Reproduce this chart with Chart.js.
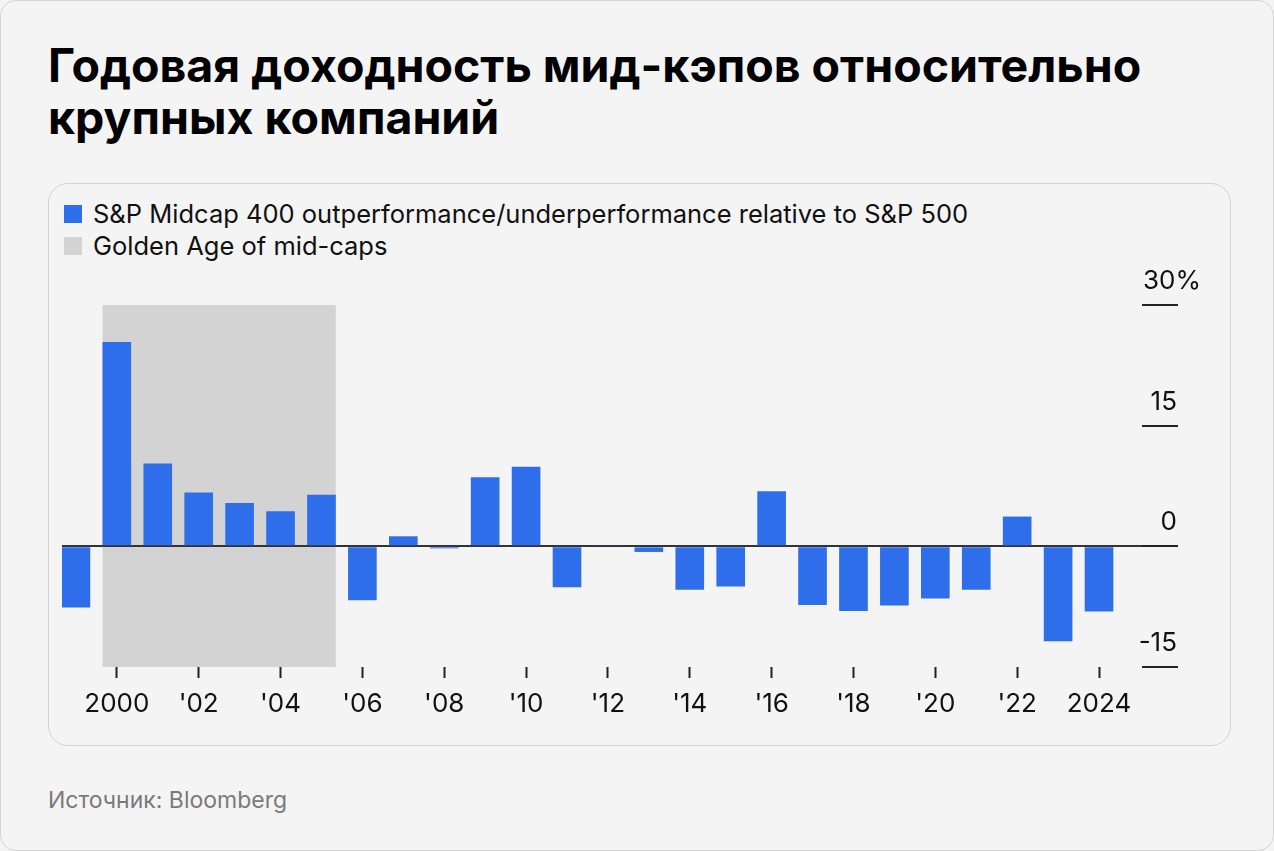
<!DOCTYPE html>
<html lang="ru">
<head>
<meta charset="utf-8">
<title>Годовая доходность мид-кэпов</title>
<script src="https://cdn.jsdelivr.net/npm/chart.js"></script>
<style>
  html, body { margin: 0; padding: 0; background: #f4f4f4; }
  body { width: 1274px; height: 851px; position: relative; font-family: Inter, "Noto Sans", sans-serif; overflow: hidden; }
  .frame { position: absolute; left: 0; top: 0; width: 1272px; height: 849px; border: 1px solid #d4d4d4; border-radius: 16px; }
  h1 { position: absolute; left: 48px; top: 39px; margin: 0; font-size: 46.5px; line-height: 52px; font-weight: 700; color: #000; white-space: nowrap; }
  .card { position: absolute; left: 48px; top: 183px; width: 1181px; height: 561px; border: 1px solid #d2d2d2; border-radius: 20px; }
  .legend { position: absolute; left: 64px; top: 198px; font-size: 25.5px; color: #111; }
  .legend div { height: 32px; line-height: 32px; display: flex; align-items: center; white-space: nowrap; }
  .legend span.sw { width: 18px; height: 18px; margin-right: 11px; display: inline-block; }
  .chartbox { position: absolute; left: 48px; top: 260px; width: 1183px; height: 480px; }
  .source { position: absolute; left: 48px; top: 786px; font-size: 23px; color: #7a7a7a; }
</style>
</head>
<body>
<div class="frame"></div>
<h1>Годовая доходность мид-кэпов относительно<br>крупных компаний</h1>
<div class="card"></div>
<div class="legend">
  <div><span class="sw" style="background:#2f6eea"></span>S&amp;P Midcap 400 outperformance/underperformance relative to S&amp;P 500</div>
  <div><span class="sw" style="background:#d3d3d3"></span>Golden Age of mid-caps</div>
</div>
<div class="chartbox"><canvas id="chart" width="1183" height="480"></canvas></div>
<div class="source">Источник: Bloomberg</div>
<script>
const years = [1999, 2000, 2001, 2002, 2003, 2004, 2005, 2006, 2007, 2008, 2009, 2010, 2011, 2012,
               2013, 2014, 2015, 2016, 2017, 2018, 2019, 2020, 2021, 2022, 2023, 2024];
const relReturn = [-7.6, 25.4, 10.3, 6.7, 5.4, 4.35, 6.4, -6.7, 1.25, -0.25, 8.6, 9.9, -5.1, 0.15,
                   -0.7, -5.4, -5.0, 6.85, -7.3, -8.05, -7.35, -6.5, -5.4, 3.7, -11.8, -8.1];
const tickYears = [2000, 2002, 2004, 2006, 2008, 2010, 2012, 2014, 2016, 2018, 2020, 2022, 2024];
const yTicks = [-15, 0, 15, 30];
const goldenAge = [2000, 2005];

const BLUE = '#2f6eea';
const GREY = '#d3d3d3';

// shaded "golden age" box, drawn under grid and bars
const goldenBox = {
  id: 'goldenBox',
  beforeDraw(chart) {
    const meta = chart.getDatasetMeta(0);
    const first = meta.data[years.indexOf(goldenAge[0])];
    const last = meta.data[years.indexOf(goldenAge[1])];
    const area = chart.chartArea;
    const ctx = chart.ctx;
    const x0 = first.x - first.width / 2;
    const x1 = last.x + last.width / 2;
    ctx.save();
    ctx.fillStyle = GREY;
    ctx.fillRect(x0, area.top, x1 - x0, area.bottom - area.top);
    ctx.restore();
  }
};

// right-side value labels sitting on short lines
const yLabels = {
  id: 'yLabels',
  afterDraw(chart) {
    const y = chart.scales.y;
    const right = chart.chartArea.right;
    const ctx = chart.ctx;
    ctx.save();
    ctx.strokeStyle = '#222';
    ctx.lineWidth = 2;
    ctx.fillStyle = '#111';
    ctx.font = '26px Inter';
    ctx.textBaseline = 'alphabetic';
    y.ticks.forEach(t => {
      const py = Math.round(y.getPixelForValue(t.value));
      ctx.beginPath();
      ctx.moveTo(right - 36, py);
      ctx.lineTo(right, py);
      ctx.stroke();
      if (t.value === 30) {
        ctx.textAlign = 'left';
        ctx.fillText(t.value + '%', right - 35, py - 16);
      } else {
        ctx.textAlign = 'right';
        ctx.fillText(String(t.value), right - 1, py - 16);
      }
    });
    ctx.restore();
  }
};

new Chart(document.getElementById('chart'), {
  type: 'bar',
  data: {
    datasets: [{
      label: 'S&P Midcap 400 outperformance/underperformance relative to S&P 500',
      data: years.map((yr, i) => ({ x: yr, y: relReturn[i] })),
      backgroundColor: BLUE,
      borderWidth: 0,
      barPercentage: 0.875,
      categoryPercentage: 0.8
    }]
  },
  options: {
    responsive: false,
    animation: false,
    layout: { padding: { left: 14, top: 45, right: 53, bottom: 0 } },
    plugins: { legend: { display: false }, tooltip: { enabled: false } },
    scales: {
      x: {
        type: 'linear',
        min: 1998.66,
        max: 2025.93,
        offset: false,
        afterBuildTicks: s => { s.ticks = tickYears.map(v => ({ value: v })); },
        afterFit: s => { s.height = 73; },
        grid: { offset: false, drawOnChartArea: false, drawTicks: true, tickLength: 11, tickColor: '#222', tickWidth: 2, color: '#222' },
        border: { display: false },
        ticks: {
          padding: 11,
          color: '#111',
          font: { family: 'Inter', size: 26 },
          maxRotation: 0,
          autoSkip: false,
          callback: v => (v === 2000 || v === 2024) ? String(v) : "'" + String(v).slice(2)
        }
      },
      y: {
        position: 'right',
        min: -15,
        max: 30,
        afterBuildTicks: s => { s.ticks = yTicks.map(v => ({ value: v })); },
        afterFit: s => { s.width = 0; },
        border: { display: false },
        grid: {
          drawTicks: false,
          lineWidth: 2,
          color: c => c.tick && c.tick.value === 0 ? '#333' : 'rgba(0,0,0,0)'
        },
        ticks: { display: false }
      }
    }
  },
  plugins: [goldenBox, yLabels]
});
</script>
</body>
</html>
